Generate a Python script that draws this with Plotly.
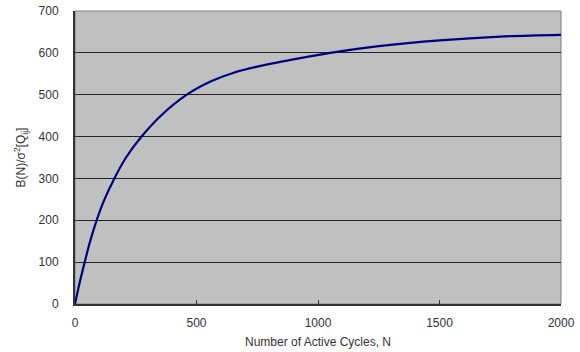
import plotly.graph_objects as go

# Data
n_cycles = [0, 20, 40, 60, 89, 120, 162, 210, 274, 350, 460, 560, 650, 750, 850,
            1050, 1250, 1500, 1750, 2000]
b_ratio = [0, 53, 100, 145, 200, 248, 300, 350, 400, 448, 500, 532, 552, 567, 579,
           600, 616, 630, 639, 643]

x_ticks = [0, 500, 1000, 1500, 2000]
y_ticks = [0, 100, 200, 300, 400, 500, 600, 700]

fig = go.Figure()
fig.add_trace(go.Scatter(
    x=n_cycles, y=b_ratio, mode="lines",
    line=dict(color="#000080", width=2.2, shape="spline", smoothing=0.8),
    showlegend=False, hoverinfo="x+y",
))

font = dict(family="Liberation Sans, Arial, sans-serif", size=12, color="#333333")

fig.update_layout(
    width=580, height=352,
    margin=dict(l=75, r=19, t=11, b=48),
    paper_bgcolor="white",
    plot_bgcolor="#C0C0C0",
    font=font,
    xaxis=dict(
        range=[0, 2000], tickvals=x_ticks, ticktext=[str(v) for v in x_ticks],
        showgrid=False, zeroline=False, automargin=False,
        showline=True, linecolor="#333333", linewidth=2,
        ticks="inside", ticklen=4, tickcolor="#333333",
        ticklabelstandoff=7,
        title=dict(text="Number of Active Cycles, N", font=dict(size=12), standoff=8),
    ),
    yaxis=dict(
        range=[0, 700], tickvals=y_ticks, ticktext=[str(v) for v in y_ticks],
        showgrid=True, gridcolor="#222222", gridwidth=1,
        zeroline=False, automargin=False,
        showline=True, linecolor="#333333", linewidth=2,
        ticks="inside", ticklen=4, tickcolor="#333333",
        ticklabelstandoff=12,
        title=dict(text="B(N)/σ<sup>2</sup>[Q<sub>ij</sub>]", font=dict(size=12), standoff=10),
    ),
    shapes=[dict(type="rect", xref="paper", yref="paper", x0=0, y0=0, x1=1, y1=1,
                 line=dict(color="#808080", width=1), layer="below")],
)

fig.write_html("out.html", config={"displayModeBar": False},
               post_script="document.body.style.margin='0';")
